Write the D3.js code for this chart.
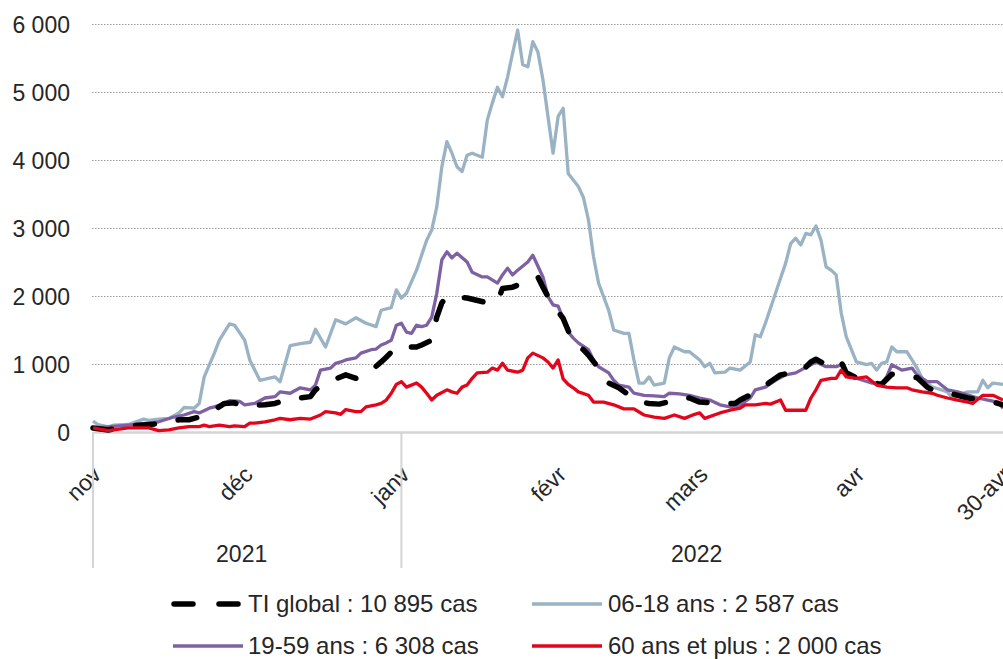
<!DOCTYPE html>
<html>
<head>
<meta charset="utf-8">
<script src="https://cdn.jsdelivr.net/npm/d3@7"></script>
<style>
  body { margin: 0; background: #fff; }
  text { font-family: "Liberation Sans", Arial, sans-serif; fill: #262626; }
</style>
</head>
<body>
<svg width="1003" height="659"></svg>
<script>
// day offsets are counted from 1 nov 2021
var start = new Date(2021, 10, 1);

var globalDays = [0,3,6,9,13,17,19,21,23,26,28,29,34,36,38,43,44,46,50,52,54,57,58,60,62,64,65,67,68,69,70,74,78,80,81,83,85,86,88,89,90,92,93,95,97,98,101,102,104,108,110,112,117,118,120,125,127,128,132,134,136,138,140,142,143,145,146,148,149,152,156,158,163,165,166,170,173,177,180];
var globalCases = [60,30,75,100,120,180,180,220,280,420,430,390,400,420,470,520,620,720,840,790,840,1030,1100,1250,1250,1250,1280,1350,1690,1900,1990,1970,1900,1920,2110,2130,2190,2230,2280,2130,1990,1770,1670,1310,1210,1130,840,720,650,440,420,410,500,500,440,420,420,470,620,740,840,870,880,1030,1070,990,960,1030,870,760,700,850,800,660,620,560,500,460,400];

var youthDays = [0,1,3,4,7,10,11,13,15,17,18,20,21,22,24,25,27,28,30,31,33,36,37,39,41,43,44,46,48,50,52,54,56,57,59,60,61,62,64,66,67,68,69,70,71,72,73,74,75,77,78,79,80,81,82,83,84,85,86,87,88,89,90,91,92,93,94,96,97,98,99,100,102,103,105,106,107,108,109,110,111,113,114,115,117,118,120,121,122,123,125,126,128,130,131,132,133,135,136,137,138,139,140,141,142,143,144,145,146,147,148,149,151,153,154,155,156,157,158,159,161,162,163,164,166,167,169,170,171,173,175,176,177,178,180];
var youthCases = [160,110,75,100,110,190,170,190,200,280,360,350,420,810,1160,1350,1590,1570,1350,1060,760,810,740,1270,1300,1320,1510,1250,1650,1590,1680,1600,1550,1790,1830,2090,1970,2040,2380,2820,2970,3310,3900,4270,4100,3900,3830,4070,4100,4040,4590,4840,5070,4930,5220,5570,5910,5400,5370,5740,5590,5180,4640,4100,4640,4760,3800,3610,3450,3120,2580,2190,1790,1500,1450,1450,1060,720,720,810,690,720,1090,1250,1180,1180,1060,960,1010,870,880,940,910,1030,1430,1400,1600,2040,2260,2480,2770,2850,2750,2920,2900,3030,2820,2430,2380,2310,1750,1400,1030,990,1010,910,1010,1030,1250,1180,1180,1060,940,790,660,640,590,500,540,590,590,760,650,720,700];

var adultDays = [0,3,7,11,13,16,18,20,21,23,24,26,27,29,30,32,34,36,37,39,41,43,44,45,47,48,49,50,52,53,55,56,57,58,59,60,61,62,63,64,65,66,67,68,69,70,71,72,74,75,77,78,80,81,82,83,84,86,87,89,90,91,92,93,94,95,96,98,99,100,102,103,104,106,107,109,111,113,114,116,118,120,122,124,126,128,130,131,133,135,137,139,140,142,143,145,147,148,149,151,154,156,157,158,160,162,163,165,167,169,171,172,175,177,179,180];
var adultCases = [60,75,100,130,150,220,250,300,280,350,370,420,460,450,400,420,500,520,590,570,650,620,690,910,940,1010,1030,1060,1090,1160,1210,1220,1280,1310,1350,1570,1600,1470,1450,1570,1550,1570,1690,2040,2530,2650,2560,2630,2500,2350,2280,2280,2190,2310,2410,2310,2380,2500,2600,2280,1990,1870,1850,1670,1470,1380,1310,1210,1060,960,870,760,690,660,570,540,530,520,570,560,540,500,470,400,370,400,500,620,660,760,840,870,910,990,1030,960,960,990,870,790,720,720,810,990,910,940,840,740,740,620,590,570,500,470,440,350];

var seniorDays = [0,3,7,11,13,15,17,19,21,22,23,25,27,28,30,31,32,34,36,37,39,41,43,45,46,48,49,50,52,53,54,56,57,58,59,60,61,62,64,65,66,67,68,70,71,72,73,74,75,76,78,79,80,81,82,84,85,86,87,89,90,91,92,93,94,95,96,98,99,101,103,105,107,109,111,113,115,117,119,120,121,124,126,128,129,131,133,134,136,137,141,142,143,144,146,147,148,149,151,153,155,157,159,161,162,164,166,167,169,171,173,174,176,178,180];
var seniorCases = [60,20,60,60,20,30,60,80,80,100,80,100,80,90,80,130,130,150,180,200,180,200,190,250,300,280,260,330,300,300,370,400,420,470,570,700,740,660,720,660,570,470,540,620,590,570,660,690,790,870,880,940,910,1010,910,880,910,1090,1160,1090,1030,940,1060,780,700,650,590,540,440,440,400,340,340,250,220,200,250,200,260,280,200,280,320,350,400,400,420,410,470,320,320,500,620,760,790,790,910,810,790,810,690,660,650,650,620,590,570,540,500,470,440,420,540,540,470];

var monthDays = [0, 30, 61, 92, 120, 151, 180];
var monthLabels = ["nov", "déc", "janv", "févr", "mars", "avr", "30-avr"];
var yearLabels = ["2021", "2022"];
var yearMid = [30, 120];
var yTicks = [0, 1000, 2000, 3000, 4000, 5000, 6000];

var seriesNames = ["TI global : 10 895 cas", "06-18 ans : 2 587 cas", "19-59 ans : 6 308 cas", "60 ans et plus : 2 000 cas"];

function day(d) { return d3.timeDay.offset(start, d); }
function zip(days, vals) { return days.map(function(d, i) { return {date: day(d), value: vals[i]}; }); }

var svg = d3.select("svg");

var x = d3.scaleTime().domain([day(0), day(180)]).range([93, 1003]);
var y = d3.scaleLinear().domain([0, 6000]).range([432, 24]);

var fmt = function(v) { return d3.format(",")(v).replace(",", " "); };

// gridlines + y labels
var yAxis = svg.append("g")
  .attr("transform", "translate(92,0)")
  .call(d3.axisLeft(y).tickValues(yTicks).tickSize(-911).tickPadding(22).tickFormat(fmt));
yAxis.select(".domain").remove();
yAxis.selectAll("line")
  .attr("stroke", "#9a9a9a")
  .attr("stroke-dasharray", "1.5,1.5");
yAxis.selectAll(".tick").filter(function(d) { return d === 0; }).select("line").remove();
yAxis.selectAll("text").style("font-size", "23px").attr("dy", "0.35em");

// x axis
var xAxis = svg.append("g")
  .attr("transform", "translate(0,432)")
  .call(d3.axisBottom(x).tickValues(monthDays.map(day)).tickSize(0).tickSizeOuter(0)
    .tickFormat(function(d, i) { return monthLabels[i]; }));
xAxis.select(".domain").attr("stroke", "#d4d4d4").attr("stroke-width", 2.5);
xAxis.selectAll("text")
  .style("font-size", "23px")
  .attr("text-anchor", "end")
  .attr("y", 0).attr("dy", 0)
  .attr("transform", "translate(9,44) rotate(-45)");

// year separators
svg.selectAll(".sep")
  .data([0, 61])
  .enter().append("line")
  .attr("class", "sep")
  .attr("x1", function(d) { return x(day(d)); })
  .attr("x2", function(d) { return x(day(d)); })
  .attr("y1", 432).attr("y2", 568)
  .attr("stroke", "#d4d4d4").attr("stroke-width", 2);

svg.selectAll(".year")
  .data(yearLabels)
  .enter().append("text")
  .attr("class", "year")
  .attr("x", function(d, i) { return x(day(yearMid[i])) - 3; })
  .attr("y", 562)
  .attr("text-anchor", "middle")
  .style("font-size", "23px")
  .text(function(d) { return d; });

// lines
var line = d3.line().x(function(d) { return x(d.date); }).y(function(d) { return y(d.value); });

var series = [
  {data: zip(youthDays, youthCases), color: "#99b2c4", width: 3.3, dash: null},
  {data: zip(adultDays, adultCases), color: "#7d61a3", width: 3.3, dash: null},
  {data: zip(globalDays, globalCases), color: "#000", width: 5.5, dash: "19,24"},
  {data: zip(seniorDays, seniorCases), color: "#e3051b", width: 3.3, dash: null}
];

svg.selectAll(".serie")
  .data(series)
  .enter().append("path")
  .attr("class", "serie")
  .attr("fill", "none")
  .attr("stroke", function(d) { return d.color; })
  .attr("stroke-width", function(d) { return d.width; })
  .attr("stroke-dasharray", function(d) { return d.dash; })
  .attr("stroke-linecap", function(d) { return d.dash ? "round" : "butt"; })
  .attr("stroke-linejoin", "round")
  .attr("d", function(d) { return line(d.data); });

// legend
var legendItems = [
  {name: seriesNames[0], color: "#000", width: 5.5, dash: "19,26", lx: 174, ly: 604},
  {name: seriesNames[1], color: "#99b2c4", width: 3.3, dash: null, lx: 532, ly: 604},
  {name: seriesNames[2], color: "#7d61a3", width: 3.3, dash: null, lx: 173, ly: 646},
  {name: seriesNames[3], color: "#e3051b", width: 3.3, dash: null, lx: 532, ly: 646}
];

var lg = svg.selectAll(".leg")
  .data(legendItems)
  .enter().append("g")
  .attr("class", "leg");

lg.append("line")
  .attr("x1", function(d) { return d.lx; })
  .attr("x2", function(d) { return d.lx + (d.dash ? 67 : 70); })
  .attr("y1", function(d) { return d.ly; })
  .attr("y2", function(d) { return d.ly; })
  .attr("stroke", function(d) { return d.color; })
  .attr("stroke-width", function(d) { return d.width; })
  .attr("stroke-dasharray", function(d) { return d.dash; })
  .attr("stroke-linecap", function(d) { return d.dash ? "round" : "butt"; });

lg.append("text")
  .attr("x", function(d) { return d.lx < 300 ? 248 : 608; })
  .attr("y", function(d) { return d.ly + 8; })
  .style("font-size", "24px")
  .text(function(d) { return d.name; });
</script>
</body>
</html>
